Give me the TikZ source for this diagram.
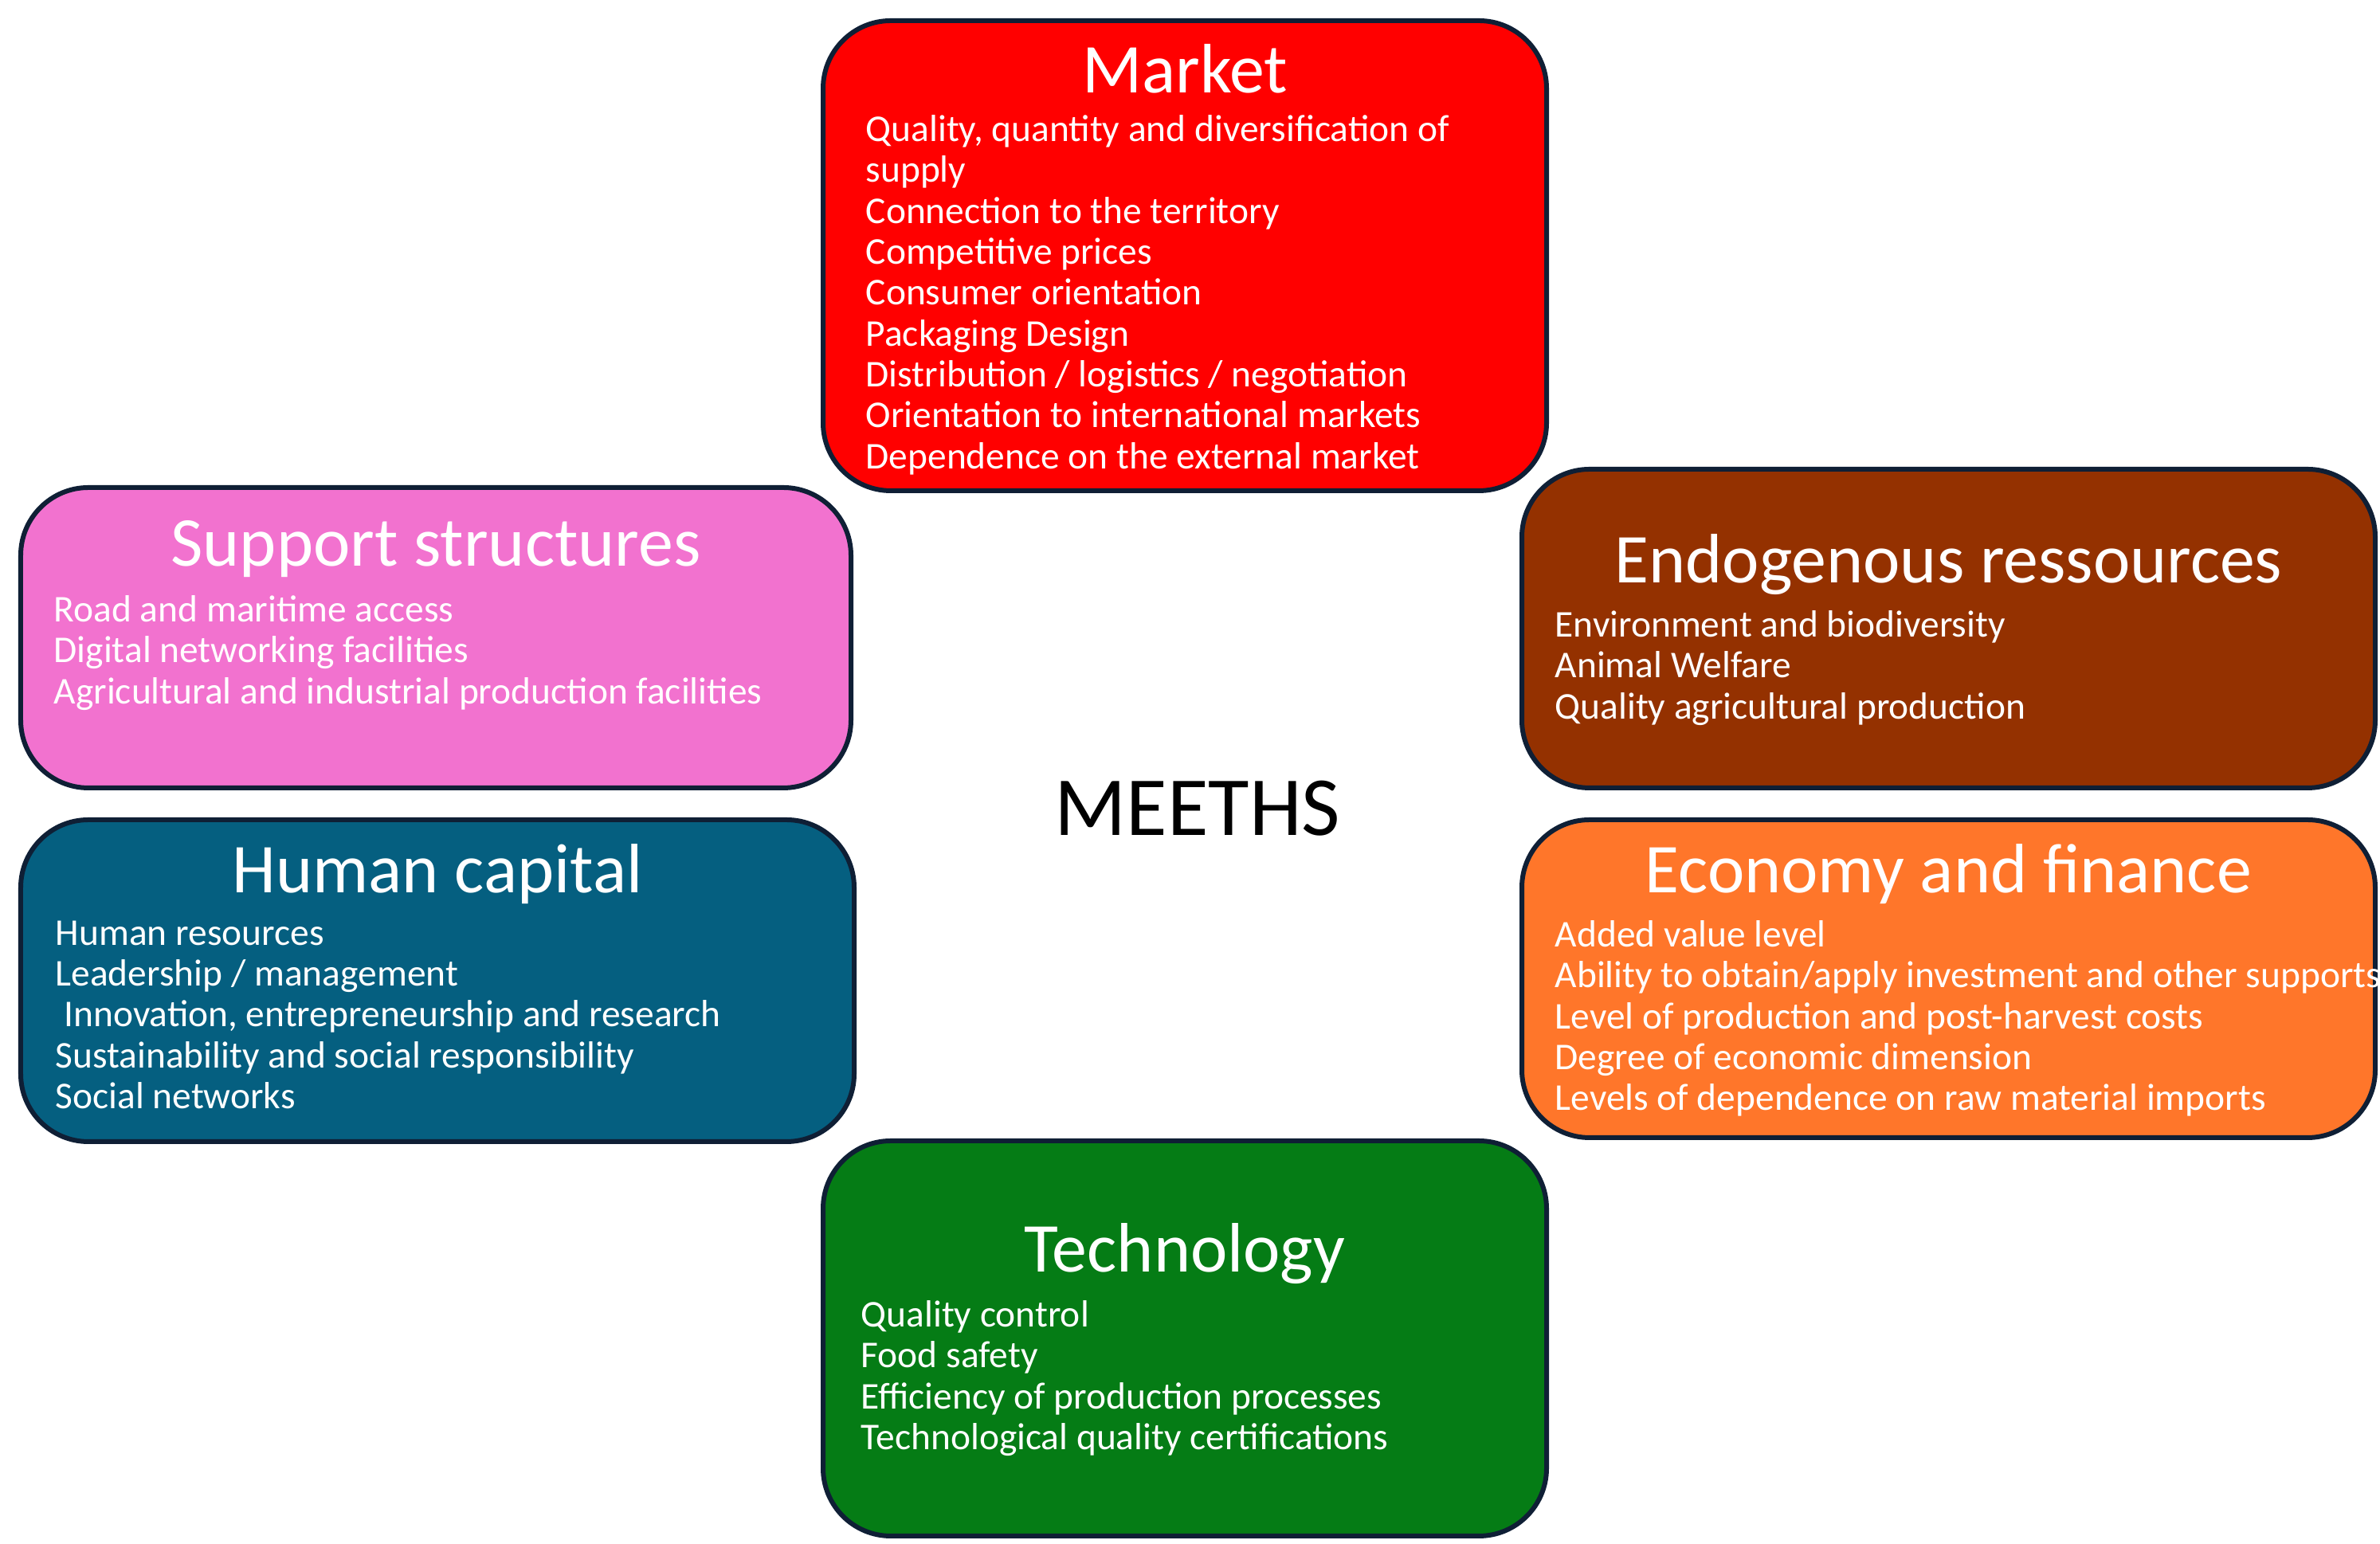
\documentclass[tikz,border=0pt]{standalone}
\usepackage{fontspec}
\setmainfont{Carlito}
\usetikzlibrary{positioning}
\definecolor{edgeblue}{HTML}{0F1F35}
\definecolor{marketred}{HTML}{FF0000}
\definecolor{supportpink}{HTML}{F272CF}
\definecolor{endobrown}{HTML}{943100}
\definecolor{humanblue}{HTML}{055F80}
\definecolor{econorange}{HTML}{FF762A}
\definecolor{techgreen}{HTML}{057C15}
\tikzset{
  pillar/.style={draw=edgeblue, line width=0.06cm, rounded corners=0.85cm, anchor=north west},
  pillartitle/.style={text=white, font=\fontsize{25}{28}\selectfont, inner sep=0pt},
  pillaritems/.style={text=white, font=\fontsize{13.5}{14.6}\selectfont, align=left, anchor=north west, inner sep=0pt}
}
\begin{document}
\begin{tikzpicture}
            \useasboundingbox (0,0) rectangle (29.87,19.38);
            % Market
            \node[pillar, fill=marketred, minimum width=9.08cm, minimum height=5.9cm] (market) at (10.30,19.15) {};
            \node[pillartitle, below = 0.63 of market.north, anchor=center] (marketT) {Market};
            \node[pillaritems] (marketI) at (10.86,17.94) {Quality, quantity and diversification of\\supply\\Connection to the territory\\Competitive prices\\Consumer orientation\\Packaging Design\\Distribution / logistics / negotiation\\Orientation to international markets\\Dependence on the external market};

            % Support structures
            \node[pillar, fill=supportpink, minimum width=10.42cm, minimum height=3.77cm] (support) at (0.23,13.29) {};
            \node[pillartitle, below = 0.80 of support.north, anchor=center] (supportT) {Support structures};
            \node[pillaritems] (supportI) at (0.67,11.91) {Road and maritime access\\Digital networking facilities\\Agricultural and industrial production facilities};

            % Endogenous ressources
            \node[pillar, fill=endobrown, minimum width=10.71cm, minimum height=4.0cm] (endo) at (19.07,13.52) {};
            \node[pillartitle, below = 1.23 of endo.north, anchor=center] (endoT) {Endogenous ressources};
            \node[pillaritems] (endoI) at (19.51,11.72) {Environment and biodiversity\\Animal Welfare\\Quality agricultural production};

            % Human capital
            \node[pillar, fill=humanblue, minimum width=10.46cm, minimum height=4.04cm] (human) at (0.23,9.12) {};
            \node[pillartitle, below = 0.71 of human.north, anchor=center] (humanT) {Human capital};
            \node[pillaritems] (humanI) at (0.69,7.83) {Human resources\\Leadership / management\\\ Innovation, entrepreneurship and research\\Sustainability and social responsibility\\Social networks};

            % Economy and finance
            \node[pillar, fill=econorange, minimum width=10.71cm, minimum height=3.99cm] (econ) at (19.07,9.12) {};
            \node[pillartitle, below = 0.71 of econ.north, anchor=center] (econT) {Economy and finance};
            \node[pillaritems] (econI) at (19.51,7.83) {Added value level\\Ability to obtain/apply investment and other supports\\Level of production and post-harvest costs\\Degree of economic dimension\\Levels of dependence on raw material imports};

            % Technology
            \node[pillar, fill=techgreen, minimum width=9.08cm, minimum height=4.96cm] (tech) at (10.30,5.09) {};
            \node[pillartitle, below = 1.45 of tech.north, anchor=center] (techT) {Technology};
            \node[pillaritems] (techI) at (10.80,3.06) {Quality control\\Food safety\\Efficiency of production processes\\Technological quality certifications};

            \node[font=\fontsize{30}{34}\selectfont] (meeths) at (15.03,9.23) {MEETHS};
\end{tikzpicture}
\end{document}
